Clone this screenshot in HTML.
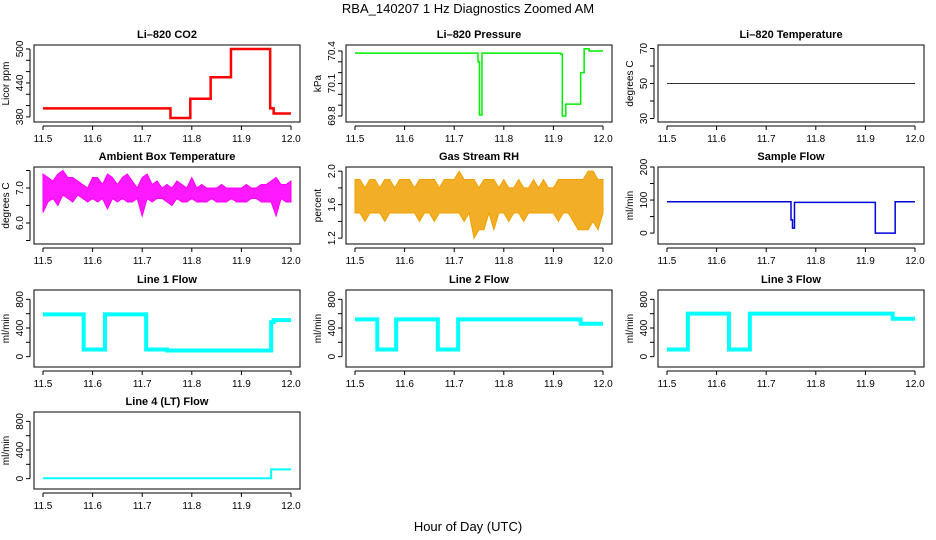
<!DOCTYPE html>
<html><head><meta charset="utf-8"><style>
body{margin:0;background:#fff;}
svg{display:block;font-family:"Liberation Sans",sans-serif;}
</style></head><body>
<svg id="c" width="936" height="540" viewBox="0 0 936 540">
<text x="468" y="13" text-anchor="middle" font-size="13">RBA_140207  1 Hz Diagnostics Zoomed AM</text>
<text x="468" y="531" text-anchor="middle" font-size="13">Hour of Day (UTC)</text>
</svg>
<script>
// time breakpoints / levels (hour of day)
const xTicks=[11.5,11.6,11.7,11.8,11.9,12.0];
const co2X=[11.5,11.757,11.797,11.838,11.879,11.958,11.965,12.0];
const co2V=[395,378,412,450,500,395,386];
const presX=[11.5,11.748,11.751,11.756,11.915,11.918,11.925,11.955,11.962,11.972,12.0];
const presV=[70.38,70.3,69.81,70.38,70.37,69.8,69.91,70.2,70.42,70.40];
const tempX=[11.5,12.0];
const tempV=[50];
const sampX=[11.5,11.75,11.753,11.757,11.92,11.96,12.0];
const sampV=[95,40,15,93,0,95];
const l1X=[11.5,11.582,11.625,11.708,11.75,11.96,11.965,12.0];
const l1V=[590,100,590,100,85,480,510];
const l2X=[11.5,11.545,11.583,11.667,11.708,11.955,12.0];
const l2V=[520,100,520,100,520,460];
const l3X=[11.5,11.542,11.625,11.667,11.955,12.0];
const l3V=[100,600,100,600,530];
const l4X=[11.5,11.96,12.0];
const l4V=[5,130];
// noisy series: envelopes sampled every 0.01 h from 11.5 to 12.0
const ambLo=[6.3,6.6,6.7,6.5,6.8,6.7,6.6,6.8,6.7,6.6,6.7,6.6,6.7,6.4,6.7,6.6,6.7,6.6,6.6,6.7,6.2,6.7,6.6,6.7,6.7,6.6,6.5,6.7,6.6,6.6,6.7,6.6,6.6,6.6,6.7,6.6,6.6,6.6,6.7,6.6,6.6,6.6,6.7,6.7,6.6,6.6,6.6,6.2,6.7,6.6,6.6];
const ambHi=[7.4,7.3,7.2,7.4,7.5,7.3,7.3,7.2,7.1,7.0,7.3,7.3,7.1,7.4,7.3,7.1,7.3,7.4,7.2,7.0,7.3,7.4,7.1,7.2,7.0,7.1,7.0,7.2,7.1,7.0,7.3,7.0,7.1,7.0,7.0,7.0,7.1,7.0,7.0,7.0,7.0,7.1,7.0,7.0,7.1,7.1,7.2,7.3,7.1,7.1,7.2];
const rhLo=[1.5,1.5,1.4,1.5,1.5,1.5,1.4,1.5,1.5,1.5,1.5,1.5,1.5,1.4,1.5,1.5,1.4,1.5,1.5,1.5,1.5,1.5,1.4,1.5,1.2,1.3,1.3,1.5,1.3,1.5,1.5,1.4,1.5,1.5,1.4,1.5,1.5,1.5,1.5,1.5,1.5,1.4,1.5,1.5,1.4,1.3,1.3,1.3,1.4,1.3,1.5];
const rhHi=[1.9,1.9,1.8,1.9,1.9,1.8,1.9,1.9,1.8,1.9,1.9,1.9,1.8,1.9,1.9,1.9,1.9,1.8,1.9,1.9,1.9,2.0,1.9,1.9,1.9,1.8,1.9,1.9,1.9,1.8,1.9,1.8,1.8,1.9,1.8,1.8,1.9,1.8,1.9,1.8,1.8,1.9,1.9,1.9,1.9,1.9,1.9,2.0,2.0,1.9,1.9];

const NS='http://www.w3.org/2000/svg';
const svg=document.getElementById('c');
function mk(t,a,p){const e=document.createElementNS(NS,t);for(const k in a)e.setAttribute(k,a[k]);(p||svg).appendChild(e);return e;}
const colL=[34,346,658], rowT=[45,167,290,412], W=266, H=77;

function panel(col,row,title,ylab,ymin,ymax,tickStep,labVals,name){
  const L=colL[col],T=rowT[row];
  const g=mk('g',{});
  
  
  const sx=v=>L+9+(v-11.5)/0.5*248;
  const sy=v=>T+H-(v-ymin)/(ymax-ymin)*H;
  const box=mk('rect',{x:L,y:T,width:W,height:H,fill:'none',stroke:'#000','stroke-width':1},g);
  
  
  const tt=mk('text',{x:L+W/2,y:T-7,'text-anchor':'middle','font-size':11,'font-weight':'bold'},g);
  tt.textContent=title;
  
  
  // x axis
  mk('line',{x1:sx(11.5),x2:sx(12),y1:T+H+4,y2:T+H+4,stroke:'#000'},g);
  xTicks.forEach(v=>{
    mk('line',{x1:sx(v),x2:sx(v),y1:T+H+4,y2:T+H+8,stroke:'#000'},g);
    const t=mk('text',{x:sx(v),y:T+H+20,'text-anchor':'middle','font-size':10},g);
    t.textContent=v.toFixed(1);
    
    
  });
  // y axis
  const first=Math.ceil(ymin/tickStep-1e-9)*tickStep;
  const ticks=[];for(let v=first;v<=ymax+1e-9;v+=tickStep)ticks.push(+v.toFixed(4));
  mk('line',{x1:L-4,x2:L-4,y1:sy(ticks[0]),y2:sy(ticks[ticks.length-1]),stroke:'#000'},g);
  ticks.forEach(v=>mk('line',{x1:L-8,x2:L-4,y1:sy(v),y2:sy(v),stroke:'#000'},g));
  labVals.forEach(v=>{
    const t=mk('text',{x:L-11,y:sy(v),'text-anchor':'middle','font-size':10,transform:`rotate(-90 ${L-11} ${sy(v)})`},g);
    t.textContent=v;
    
    
  });
  const yl=mk('text',{x:L-25,y:T+H/2,'text-anchor':'middle','font-size':10,transform:`rotate(-90 ${L-25} ${T+H/2})`},g);
  yl.textContent=ylab;
  
  
  return {g,sx,sy};
}
function step(p,xs,vs,color,w,name){
  let d='';
  for(let i=0;i<vs.length;i++){
    d+=(i?'L':'M')+p.sx(xs[i])+' '+p.sy(vs[i])+'L'+p.sx(xs[i+1])+' '+p.sy(vs[i]);
  }
  const e=mk('path',{d,fill:'none',stroke:color,'stroke-width':w},p.g);
  
  
}
function band(p,lo,hi,color,name,op){
  let d='';
  hi.forEach((v,i)=>{d+=(i?'L':'M')+p.sx(11.5+i*0.01)+' '+p.sy(v);});
  for(let i=lo.length-1;i>=0;i--)d+='L'+p.sx(11.5+i*0.01)+' '+p.sy(lo[i]);
  d+='Z';
  const e=mk('path',{d,fill:color,stroke:color,'stroke-width':1,'fill-opacity':op},p.g);
  
  
}
let p;
p=panel(0,0,'Li\u2013820 CO2','Licor ppm',371,507,20,[380,440,500],'co2');
step(p,co2X,co2V,'#ff0000',2.5,'co2-line');
p=panel(1,0,'Li\u2013820 Pressure','kPa',69.745,70.455,0.1,[69.8,70.1,70.4],'pressure');
step(p,presX,presV,'#00ee00',1.5,'pressure-line');
p=panel(2,0,'Li\u2013820 Temperature','degrees C',28,72,10,[30,50,70],'temperature');
step(p,tempX,tempV,'#333',1,'temperature-line');
p=panel(0,1,'Ambient Box Temperature','degrees C',5.4,7.6,0.5,['6.0','7.0'],'ambient');
band(p,ambLo,ambHi,'#ff00ff','ambient-band',0.9);
p=panel(1,1,'Gas Stream RH','percent',1.13,2.05,0.2,['1.2','1.6','2.0'],'rh');
band(p,rhLo,rhHi,'#f0a000','rh-band',0.85);
p=panel(2,1,'Sample Flow','ml/min',-33,200,50,[0,100,200],'sample-flow');
step(p,sampX,sampV,'#0000dd',1.5,'sample-flow-line');
p=panel(0,2,'Line 1 Flow','ml/min',-145,931,200,[0,400,800],'line1');
step(p,l1X,l1V,'#00ffff',4,'line1-flow');
p=panel(1,2,'Line 2 Flow','ml/min',-145,931,200,[0,400,800],'line2');
step(p,l2X,l2V,'#00ffff',4,'line2-flow');
p=panel(2,2,'Line 3 Flow','ml/min',-145,931,200,[0,400,800],'line3');
step(p,l3X,l3V,'#00ffff',4,'line3-flow');
p=panel(0,3,'Line 4 (LT) Flow','ml/min',-145,931,200,[0,400,800],'line4');
step(p,l4X,l4V,'#00ffff',2,'line4-flow');
</script>
</body></html>
